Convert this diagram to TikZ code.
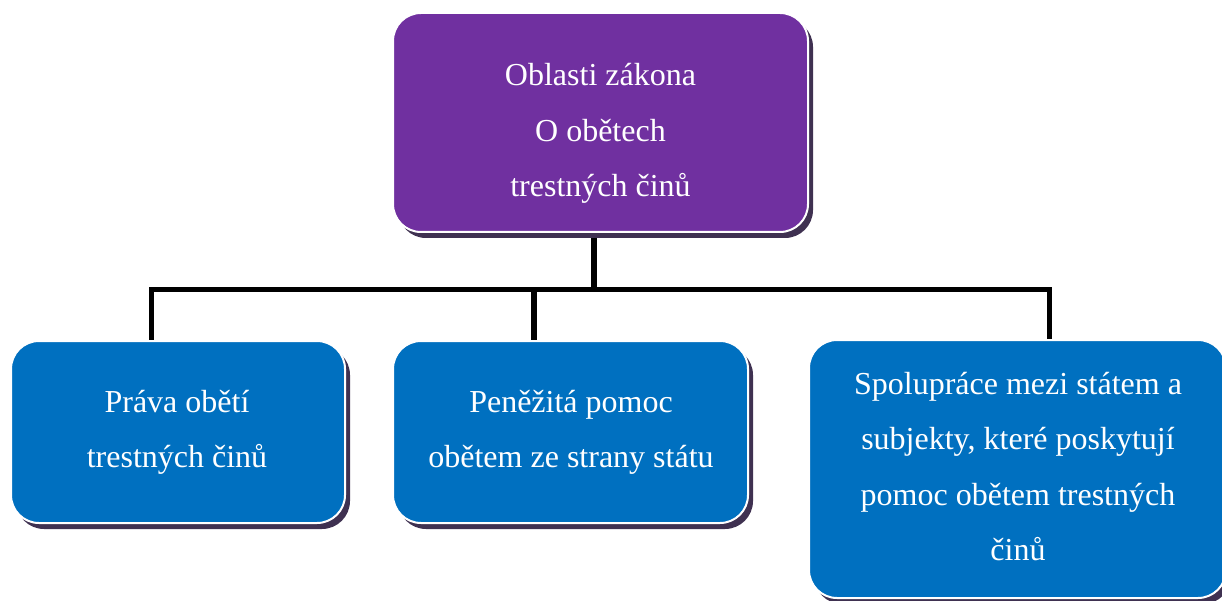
\documentclass[tikz,border=0pt]{standalone}
\usepackage{fontspec}
\setmainfont{Liberation Serif}
\usetikzlibrary{shadows,backgrounds,calc}
\definecolor{topc}{HTML}{7030A0}
\definecolor{boxc}{HTML}{0070C0}
\definecolor{shadowc}{HTML}{3F3151}
\tikzset{
  panel/.style={rectangle, rounded corners=28pt, draw=white, line width=2pt,
    inner sep=0pt,
    drop shadow={shadow xshift=5pt, shadow yshift=-6pt, fill=shadowc, opacity=1}},
  label/.style={text=white, align=center, inner sep=0pt,
    font=\fontsize{32}{55.5}\selectfont},
  conn/.style={draw=black, line width=5.8pt, miter limit=10}
}
\begin{document}
\begin{tikzpicture}[x=1pt,y=-1pt]
\useasboundingbox (0,0) rectangle (1222,601);
% boxes
\node[panel, fill=topc, minimum width=415pt, minimum height=219pt] (top) at (600.5,122.5) {};
\node[panel, fill=boxc, minimum width=334pt, minimum height=182pt] (left) at (178,432) {};
\node[panel, fill=boxc, minimum width=355pt, minimum height=182pt] (mid) at (570.5,432) {};
\node[panel, fill=boxc, minimum width=417pt, minimum height=258pt] (right) at (1017.5,469) {};
% texts
\node[label] (ttop) at (600.5,133.5) {Oblasti zákona\\O obětech\\trestných činů};
\node[label] (tleft) at (177,432.5) {Práva obětí\\trestných činů};
\node[label] (tmid) at (571,432.5) {Peněžitá pomoc\\obětem ze strany státu};
\node[label] (tright) at (1018,466.5) {Spolupráce mezi státem a\\subjekty, které poskytují\\pomoc obětem trestných\\činů};
% connectors
\coordinate (bus) at (594,289.5);
\coordinate (dL) at (151.5,289.5);
\coordinate (dM) at (534,289.5);
\coordinate (dR) at (1049.5,289.5);
\begin{scope}[on background layer]
\draw[conn] (top.south -| bus) -- (bus);
\draw[conn] ([yshift=-4pt]left.north -| dL) -- (dL) -- (dR) -- ([yshift=-4pt]right.north -| dR);
\draw[conn] (dM) -- ([yshift=-4pt]mid.north -| dM);
\end{scope}
\end{tikzpicture}
\end{document}
